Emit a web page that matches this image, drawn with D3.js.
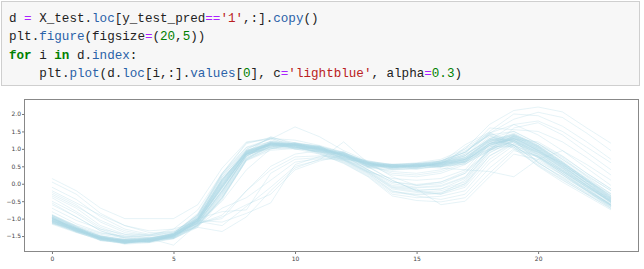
<!DOCTYPE html>
<html>
<head>
<meta charset="utf-8">
<script src="https://cdn.jsdelivr.net/npm/d3@7"></script>
<style>
    body { margin: 0; background: #fff; }
    svg { display: block; }
</style>
</head>
<body>
<svg id="svgPage" width="644" height="269"></svg>
<script>
// code cell tokens: [text, kind]
let codeLine1 = [['d', 'v'], [' ', 'v'], ['=', 'o'], [' ', 'v'], ['X_test', 'v'], ['.', 'v'], ['loc', 'a'], ['[', 'v'], ['y_test_pred', 'v'], ['==', 'o'], ["'1'", 's'], [',:].', 'v'], ['copy', 'a'], ['()', 'v']];
let codeLine2 = [['plt', 'v'], ['.', 'v'], ['figure', 'a'], ['(', 'v'], ['figsize', 'v'], ['=', 'o'], ['(', 'v'], ['20', 'n'], [',', 'v'], ['5', 'n'], ['))', 'v']];
let codeLine3 = [['for', 'k'], [' i ', 'v'], ['in', 'k'], [' d.', 'v'], ['index', 'a'], [':', 'v']];
let codeLine4 = [['    plt.', 'v'], ['plot', 'a'], ['(d.', 'v'], ['loc', 'a'], ['[i,:].', 'v'], ['values', 'a'], ['[', 'v'], ['0', 'n'], ['], c', 'v'], ['=', 'o'], ["'lightblue'", 's'], [', alpha', 'v'], ['=', 'o'], ['0.3', 'n'], [')', 'v']];

let xTicks = [0, 5, 10, 15, 20];
let yTicks = [-1.5, -1.0, -0.5, 0.0, 0.5, 1.0, 1.5, 2.0];

// rows of d
let coreRows = [
    [-0.98, -1.29, -1.58, -1.63, -1.65, -1.46, -0.92, 0.20, 0.98, 1.32, 1.02, 1.08, 0.76, 0.60, 0.46, 0.55, 0.48, 1.05, 1.45, 1.20, 0.78, 0.35, -0.10, -0.50],
    [-1.10, -1.35, -1.52, -1.70, -1.58, -1.55, -1.20, -0.35, 0.72, 1.05, 1.18, 0.95, 0.88, 0.50, 0.55, 0.44, 0.62, 0.62, 1.00, 1.38, 1.15, 0.70, 0.25, -0.20],
    [-0.92, -1.22, -1.60, -1.62, -1.68, -1.48, -1.00, 0.05, 0.90, 1.35, 1.12, 1.02, 0.70, 0.62, 0.42, 0.52, 0.58, 0.92, 1.42, 1.10, 0.62, 0.15, -0.25, -0.62],
    [-1.05, -1.36, -1.54, -1.72, -1.60, -1.52, -1.12, -0.22, 0.85, 1.00, 1.05, 0.92, 0.85, 0.48, 0.52, 0.58, 0.50, 0.66, 1.12, 1.30, 0.95, 0.55, 0.10, -0.30],
    [-1.12, -1.33, -1.62, -1.66, -1.63, -1.42, -0.85, 0.30, 1.18, 1.28, 0.98, 1.06, 0.78, 0.58, 0.48, 0.46, 0.66, 0.95, 1.38, 1.00, 0.52, 0.10, -0.30, -0.72],
    [-0.96, -1.26, -1.50, -1.64, -1.66, -1.57, -1.25, -0.45, 0.68, 1.00, 1.14, 0.98, 0.92, 0.52, 0.56, 0.50, 0.52, 0.70, 1.10, 1.28, 1.20, 0.80, 0.30, -0.15],
    [-1.01, -1.38, -1.57, -1.69, -1.61, -1.50, -1.05, -0.05, 0.95, 1.18, 1.02, 1.00, 0.80, 0.64, 0.50, 0.56, 0.48, 0.62, 0.98, 1.22, 0.80, 0.35, -0.08, -0.50],
    [-1.14, -1.30, -1.55, -1.61, -1.64, -1.47, -0.98, 0.12, 0.92, 1.10, 1.16, 1.04, 0.74, 0.56, 0.44, 0.48, 0.60, 1.12, 1.48, 1.10, 0.60, 0.18, -0.28, -0.66],
    [-0.90, -1.24, -1.59, -1.67, -1.57, -1.76, -1.15, -0.28, 0.80, 1.12, 1.06, 0.90, 0.86, 0.46, 0.54, 0.52, 0.56, 0.74, 1.20, 1.45, 1.10, 0.75, 0.22, -0.20],
    [-1.06, -1.34, -1.53, -1.65, -1.62, -1.44, -0.90, 0.25, 1.00, 1.30, 1.10, 1.05, 0.72, 0.60, 0.50, 0.42, 0.54, 0.68, 1.08, 1.05, 0.50, 0.05, -0.35, -0.75],
    [-1.00, -1.32, -1.61, -1.71, -1.66, -1.51, -1.08, -0.15, 0.84, 1.04, 1.12, 0.96, 0.84, 0.54, 0.47, 0.54, 0.64, 0.82, 1.28, 1.24, 0.84, 0.40, -0.06, -0.46],
    [-1.08, -1.28, -1.56, -1.63, -1.60, -1.49, -1.18, -0.38, 0.70, 1.14, 1.08, 1.02, 0.79, 0.66, 0.53, 0.49, 0.50, 0.58, 0.95, 1.25, 0.90, 0.60, 0.15, -0.28],
    [-0.94, -1.35, -1.51, -1.68, -1.64, -1.56, -1.02, 0.08, 0.96, 1.16, 1.00, 0.94, 0.90, 0.50, 0.45, 0.57, 0.58, 0.80, 1.35, 1.20, 0.74, 0.26, -0.20, -0.70],
    [-1.13, -1.37, -1.58, -1.64, -1.67, -1.45, -0.95, 0.15, 0.86, 1.09, 1.15, 1.08, 0.77, 0.57, 0.51, 0.47, 0.62, 0.72, 1.15, 1.27, 0.60, 0.20, -0.20, -0.58],
    [-1.03, -1.27, -1.63, -1.70, -1.59, -1.50, -1.10, -0.20, 0.78, 1.20, 1.04, 0.99, 0.83, 0.62, 0.49, 0.53, 0.53, 0.64, 1.10, 1.36, 1.00, 0.55, 0.08, -0.34],
    [-0.97, -1.31, -1.54, -1.66, -1.63, -1.53, -1.00, 0.00, 0.93, 1.13, 1.09, 1.03, 0.81, 0.52, 0.55, 0.51, 0.57, 1.00, 1.40, 1.05, 0.55, 0.12, -0.30, -0.70],
    [-1.09, -1.33, -1.57, -1.62, -1.65, -1.48, -1.14, -0.25, 0.82, 1.06, 1.13, 0.97, 0.87, 0.59, 0.47, 0.55, 0.61, 0.76, 1.22, 1.30, 0.86, 0.38, -0.04, -0.44],
    [-1.16, -1.40, -1.60, -1.73, -1.69, -1.58, -1.22, -0.40, 0.66, 0.96, 1.01, 0.93, 0.75, 0.49, 0.43, 0.45, 0.49, 0.56, 0.96, 1.12, 0.76, 0.30, -0.16, -0.60],
    [-0.88, -1.21, -1.49, -1.60, -1.56, -1.43, -0.88, 0.28, 1.15, 1.33, 1.17, 1.07, 0.89, 0.63, 0.56, 0.58, 0.66, 0.90, 1.40, 1.50, 1.15, 0.78, 0.30, -0.15],
    [-1.04, -1.30, -1.55, -1.67, -1.61, -1.51, -1.06, -0.10, 0.88, 1.11, 1.07, 1.01, 0.80, 0.55, 0.48, 0.50, 0.55, 0.70, 1.16, 1.26, 0.82, 0.36, -0.10, -0.54],
    [-0.99, -1.34, -1.56, -1.65, -1.64, -1.46, -0.96, 0.10, 0.91, 1.17, 1.11, 0.99, 0.82, 0.57, 0.52, 0.48, 0.59, 0.80, 1.30, 1.10, 0.65, 0.25, -0.18, -0.62],
    [-1.07, -1.29, -1.59, -1.68, -1.62, -1.52, -1.16, -0.30, 0.76, 1.07, 1.10, 1.00, 0.84, 0.53, 0.46, 0.52, 0.52, 0.66, 1.14, 1.34, 0.94, 0.48, 0.02, -0.42]
];

let dipRows = [
    [-1.00, -1.26, -1.57, -1.62, -1.66, -1.45, -0.94, 0.12, 0.95, 1.12, 1.05, 0.97, 0.70, 0.35, -0.10, -0.18, -0.15, 0.05, 0.95, 1.30, 1.02, 0.55, 0.05, -0.45],
    [-1.07, -1.36, -1.55, -1.71, -1.60, -1.54, -1.18, -0.32, 0.74, 1.08, 1.10, 0.88, 0.64, 0.28, -0.22, -0.30, -0.25, -0.05, 0.80, 1.20, 0.92, 0.45, -0.05, -0.55],
    [-0.93, -1.23, -1.53, -1.64, -1.56, -1.47, -1.01, 0.02, 0.88, 1.22, 1.08, 0.99, 0.72, 0.38, -0.05, -0.12, -0.08, 0.18, 1.05, 1.38, 1.08, 0.62, 0.12, -0.38],
    [-1.11, -1.39, -1.61, -1.67, -1.68, -1.51, -1.10, -0.10, 0.86, 1.04, 1.00, 0.85, 0.60, 0.22, -0.30, -0.40, -0.36, -0.20, 0.60, 1.10, 0.85, 0.38, -0.12, -0.62],
    [-0.98, -1.31, -1.52, -1.66, -1.59, -1.49, -1.12, -0.24, 0.80, 1.17, 1.12, 0.93, 0.68, 0.33, -0.15, -0.25, -0.20, 0.00, 0.88, 1.25, 0.97, 0.50, 0.00, -0.50],
    [-1.05, -1.30, -1.58, -1.65, -1.64, -1.53, -1.04, 0.06, 0.90, 1.10, 1.04, 0.91, 0.66, 0.30, -0.20, -0.35, -0.45, -0.30, 0.45, 1.00, 0.80, 0.35, -0.15, -0.60],
    [-0.90, -1.27, -1.50, -1.60, -1.58, -1.42, -0.90, 0.26, 1.04, 1.20, 1.14, 0.99, 0.74, 0.40, 0.05, -0.02, 0.05, 0.30, 1.15, 1.42, 1.10, 0.65, 0.15, -0.35],
    [-1.14, -1.38, -1.63, -1.70, -1.66, -1.57, -1.20, -0.42, 0.68, 1.02, 1.06, 0.86, 0.58, 0.20, -0.35, -0.48, -0.52, -0.40, 0.30, 0.95, 0.78, 0.30, -0.20, -0.66],
    [-1.02, -1.33, -1.54, -1.68, -1.61, -1.50, -1.07, -0.12, 0.84, 1.14, 1.08, 0.92, 0.67, 0.32, -0.12, -0.22, -0.30, -0.10, 0.70, 1.15, 0.90, 0.42, -0.08, -0.52],
    [-0.96, -1.28, -1.56, -1.63, -1.62, -1.46, -0.97, 0.14, 0.93, 1.16, 1.11, 0.96, 0.71, 0.36, -0.08, -0.15, -0.60, -0.50, 0.20, 0.85, 0.70, 0.25, -0.22, -0.62],
    [-1.08, -1.34, -1.59, -1.69, -1.64, -1.55, -1.13, -0.19, 0.80, 1.10, 1.05, 0.89, 0.62, 0.25, -0.25, -0.32, -0.28, 0.10, 1.00, 1.32, 1.00, 0.52, 0.02, -0.48],
    [-1.00, -1.30, -1.55, -1.65, -1.62, -1.49, -1.06, -0.07, 0.86, 1.14, 1.09, 0.94, 0.69, 0.34, 0.15, 0.10, 0.15, 0.40, 1.20, 1.05, 0.75, 0.30, -0.18, -0.65]
];

let slowRows = [
    [-0.95, -1.25, -1.45, -1.55, -1.55, -1.45, -1.25, -1.37, -0.95, -0.20, 0.45, 0.70, 0.75, 0.55, 0.25, 0.20, 0.30, 0.55, 1.10, 1.28, 0.95, 0.48, -0.02, -0.52],
    [-1.05, -1.32, -1.55, -1.62, -1.58, -1.42, -1.15, -0.95, -0.60, -0.30, 0.40, 0.65, 0.82, 0.60, 0.48, 0.50, 0.55, 0.70, 1.00, 1.20, 0.90, 0.45, -0.05, -0.50],
    [-0.80, -1.15, -1.40, -1.52, -1.50, -1.38, -1.05, -1.10, -0.85, -0.55, 0.55, 0.78, 0.90, 0.62, 0.20, -0.05, 0.00, 0.30, 0.95, 1.35, 1.05, 0.58, 0.08, -0.40],
    [-1.10, -1.36, -1.58, -1.68, -1.64, -1.50, -1.20, -0.70, -0.40, 0.10, 0.62, 0.72, 0.68, 0.45, 0.40, 0.45, 0.60, 0.85, 1.25, 1.10, 0.78, 0.32, -0.15, -0.62],
    [-0.70, -1.05, -1.30, -1.45, -1.45, -1.35, -1.00, -0.80, -0.75, 0.30, 0.70, 0.75, 0.80, 0.50, 0.35, 0.30, 0.40, 0.65, 1.15, 1.40, 1.08, 0.62, 0.12, -0.35],
    [-1.00, -1.28, -1.50, -1.60, -1.58, -1.46, -1.12, -1.00, -0.20, 0.40, 0.77, 0.80, 0.72, 0.48, 0.10, -0.20, -0.30, 0.00, 0.80, 1.15, 0.88, 0.40, -0.10, -0.58],
    [-0.90, -1.20, -1.42, -1.50, -1.48, -1.30, -1.08, -1.20, -0.65, -0.10, 0.50, 0.68, 1.20, 0.60, 0.40, 0.42, 0.50, 0.62, 1.05, 1.25, 0.92, 0.44, -0.06, -0.54]
];

let highStartRows = [
    [0.15, -0.20, -0.70, -1.00, -1.00, -1.00, -0.60, 0.45, 1.20, 1.30, 1.25, 1.10, 0.90, 0.62, 0.52, 0.55, 0.60, 0.75, 1.30, 1.50, 1.15, 0.70, 0.20, -0.30],
    [0.05, -0.30, -0.85, -1.20, -1.35, -1.30, -0.75, 0.30, 1.05, 1.28, 1.63, 1.35, 0.95, 0.65, 0.55, 0.58, 0.65, 0.90, 1.45, 1.70, 1.40, 0.95, 0.45, -0.05],
    [-0.10, -0.45, -0.95, -1.30, -1.45, -1.40, -0.90, 0.20, 0.95, 1.22, 1.18, 1.08, 0.88, 0.60, 0.50, 0.52, 0.58, 0.70, 1.25, 1.40, 1.06, 0.60, 0.10, -0.40],
    [-0.25, -0.60, -1.10, -1.40, -1.50, -1.45, -1.00, 0.10, 0.90, 1.18, 1.16, 1.06, 0.86, 0.60, 0.52, 0.54, 0.59, 0.72, 1.28, 1.42, 1.08, 0.62, 0.12, -0.38],
    [-0.35, -0.70, -1.20, -1.45, -1.55, -1.48, -1.05, -0.05, 0.85, 1.15, 1.12, 1.00, 0.80, 0.40, 0.00, -0.10, -0.05, 0.20, 1.00, 1.35, 1.05, 0.58, 0.08, -0.42],
    [-0.40, -0.80, -1.25, -1.50, -1.55, -1.45, -1.02, 0.00, 0.88, 1.16, 1.14, 1.04, 0.84, 0.58, 0.50, 0.51, 0.56, 0.68, 1.22, 1.36, 1.02, 0.56, 0.06, -0.44],
    [-0.50, -0.85, -1.30, -1.55, -1.58, -1.47, -1.03, -0.02, 0.87, 1.15, 1.13, 1.03, 0.83, 0.57, 0.49, 0.50, 0.55, 0.64, 1.20, 1.33, 0.98, 0.52, 0.02, -0.48],
    [-0.55, -0.95, -1.35, -1.58, -1.60, -1.50, -1.06, -0.08, 0.84, 1.13, 1.10, 1.00, 0.80, 0.55, 0.47, 0.49, 0.53, 0.62, 1.16, 1.30, 0.96, 0.50, 0.00, -0.50],
    [-0.30, -0.65, -1.05, -1.35, -1.48, -1.42, -1.10, -0.50, 0.40, 1.00, 1.15, 1.05, 0.85, 0.58, 0.50, 0.52, 0.57, 0.70, 1.25, 1.38, 1.04, 0.58, 0.08, -0.42],
    [-0.20, -0.55, -0.90, -1.20, -1.40, -1.38, -1.15, -0.90, -0.20, 0.50, 0.85, 0.95, 0.80, 0.55, 0.30, 0.25, 0.35, 0.60, 1.10, 1.30, 0.98, 0.52, 0.02, -0.46],
    [-0.60, -0.95, -1.35, -1.55, -1.62, -1.55, -1.20, -0.40, 0.70, 1.08, 1.06, 0.96, 0.76, 0.50, 0.10, -0.20, -0.15, 0.15, 0.90, 1.22, 0.94, 0.46, -0.04, -0.54]
];

let latePeakRows = [
    [-1.00, -1.28, -1.52, -1.62, -1.60, -1.46, -1.02, 0.04, 0.90, 1.16, 1.13, 1.03, 0.84, 0.60, 0.55, 0.60, 0.70, 1.00, 1.70, 2.10, 2.20, 2.06, 1.60, 1.16],
    [-1.06, -1.33, -1.57, -1.67, -1.63, -1.50, -1.08, -0.12, 0.84, 1.13, 1.11, 1.01, 0.82, 0.58, 0.52, 0.56, 0.65, 0.90, 1.50, 2.00, 1.95, 1.65, 1.20, 0.70],
    [-0.94, -1.26, -1.51, -1.61, -1.58, -1.45, -1.00, 0.08, 0.92, 1.18, 1.15, 1.05, 0.86, 0.62, 0.54, 0.57, 0.62, 0.80, 1.45, 1.85, 2.05, 1.90, 1.45, 0.95],
    [-1.10, -1.36, -1.59, -1.69, -1.65, -1.53, -1.12, -0.20, 0.80, 1.11, 1.09, 0.98, 0.78, 0.54, 0.48, 0.52, 0.58, 0.75, 1.25, 1.70, 1.80, 1.50, 1.05, 0.60],
    [-1.02, -1.30, -1.55, -1.65, -1.61, -1.49, -1.06, -0.06, 0.86, 1.14, 1.12, 1.02, 0.82, 0.40, 0.05, -0.05, 0.05, 0.35, 0.95, 1.60, 1.75, 1.40, 0.90, 0.40],
    [-0.98, -1.29, -1.54, -1.64, -1.61, -1.48, -1.04, -0.03, 0.88, 1.15, 1.13, 1.03, 0.84, 0.58, 0.50, 0.55, 0.62, 0.85, 1.60, 1.55, 1.50, 1.20, 0.75, 0.25],
    [-1.04, -1.32, -1.56, -1.66, -1.62, -1.50, -1.08, -0.10, 0.85, 1.13, 1.11, 1.01, 0.81, 0.56, 0.48, 0.50, 0.45, 0.40, 0.35, 0.20, 0.70, 0.95, 0.55, 0.10]
];

function drawCodeCell(svg) {
    let charW = 7.55;
    svg.append('rect')
        .attr('x', 1.5)
        .attr('y', 1.5)
        .attr('width', 638)
        .attr('height', 84)
        .style('fill', '#f7f7f7')
        .style('stroke', '#cfcfcf');
    let colors = { v: '#222', o: '#aa22ff', s: '#ba2121', n: '#008000', k: '#008000', a: '#2a62a8' };
    let lines = [codeLine1, codeLine2, codeLine3, codeLine4];
    lines.forEach((tokens, row) => {
        let col = 0;
        let placed = tokens.map(t => {
            let item = { text: t[0], kind: t[1], col: col };
            col += t[0].length;
            return item;
        });
        svg.append('g').selectAll('text').data(placed).join('text')
            .attr('x', d => 9 + d.col * charW)
            .attr('y', 22 + row * 18.4)
            .attr('xml:space', 'preserve')
            .style('font-family', '"Liberation Mono", "DejaVu Sans Mono", monospace')
            .style('font-size', '12.6px')
            .style('font-weight', d => d.kind === 'k' ? 'bold' : 'normal')
            .style('white-space', 'pre')
            .style('fill', d => colors[d.kind])
            .text(d => d.text);
    });
}

function drawPlot(svg) {
    let left = 24, right = 639, top = 99, bottom = 252;
    let allRows = coreRows.concat(dipRows, slowRows, highStartRows, latePeakRows);
    let x = d3.scaleLinear().domain([-1.15, 24.15]).range([left, right]);
    let y = d3.scaleLinear().domain([-1.957, 2.43]).range([bottom, top]);

    let line = d3.line()
        .x((d, i) => x(i))
        .y(d => y(d));
    svg.append('g').selectAll('path').data(allRows).join('path')
        .attr('d', d => line(d))
        .style('fill', 'none')
        .style('stroke', 'lightblue')
        .style('stroke-width', 1)
        .style('stroke-opacity', 0.3);

    let xAxis = d3.axisBottom(x).tickValues(xTicks).tickFormat(d3.format('d')).tickSize(2).tickSizeOuter(0);
    let gx = svg.append('g').attr('transform', `translate(0, ${bottom})`).call(xAxis);
    let yAxis = d3.axisLeft(y).tickValues(yTicks).tickFormat(d => d3.format('.1f')(d).replace('-', '\u2212')).tickSize(2).tickSizeOuter(0);
    let gy = svg.append('g').attr('transform', `translate(${left}, 0)`).call(yAxis);
    [gx, gy].forEach(g => {
        g.select('.domain').remove();
        g.selectAll('line').style('stroke', '#777');
        g.selectAll('text')
            .style('font-family', '"DejaVu Sans", sans-serif')
            .style('font-size', '6px')
            .style('fill', '#444');
    });
    gx.selectAll('text').attr('y', 5);
    gy.selectAll('text').attr('x', -3);

    svg.append('rect')
        .attr('x', left + 0.5)
        .attr('y', top + 0.5)
        .attr('width', right - left - 1)
        .attr('height', bottom - top - 1)
        .style('fill', 'none')
        .style('stroke', '#888');
}

function init() {
    let svg = d3.select('#svgPage');
    drawCodeCell(svg);
    drawPlot(svg);
}

init();
</script>
</body>
</html>
